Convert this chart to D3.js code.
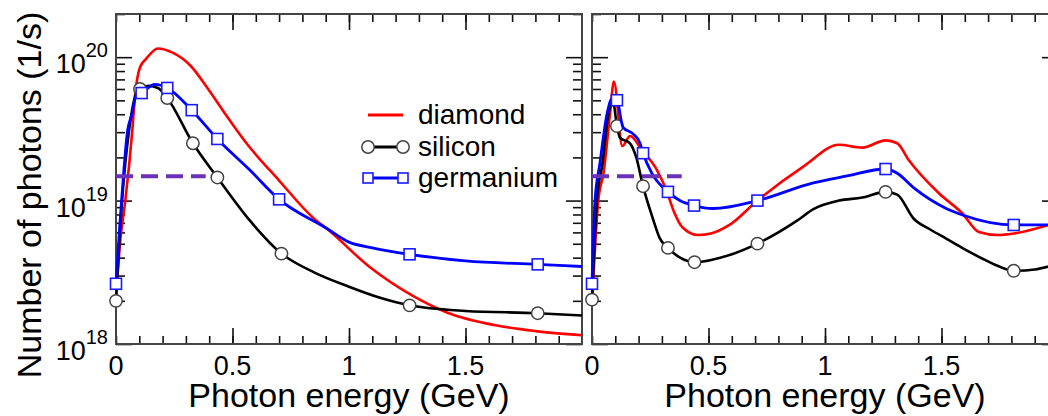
<!DOCTYPE html>
<html>
<head>
<meta charset="utf-8">
<script src="https://cdn.jsdelivr.net/npm/d3@7"></script>
<style>
  body { margin: 0; background: #fff; }
  svg { display: block; font-family: "Liberation Sans", Arial, Helvetica, sans-serif; }
</style>
</head>
<body>
<script>
// photon energies (GeV) and photon counts (1/s)
var leftDiamondE = [0, 0.02, 0.04, 0.07, 0.081, 0.103, 0.13, 0.18, 0.245, 0.32, 0.39, 0.46, 0.56, 0.70, 0.86, 0.90, 1.09, 1.28, 1.42, 1.63, 1.80, 2.0];
var leftDiamondV = [2.14e18, 5.6e18, 1.0e19, 3.09e19, 5.25e19, 8.5e19, 9.77e19, 1.15e20, 1.07e20, 8.71e19, 6.17e19, 4.22e19, 2.51e19, 1.38e19, 7.24e18, 6.46e18, 3.43e18, 2.14e18, 1.66e18, 1.35e18, 1.23e18, 1.15e18];

var leftSiliconE = [0, 0.017, 0.026, 0.056, 0.09, 0.103, 0.14, 0.18, 0.22, 0.33, 0.435, 0.575, 0.71, 0.85, 1.0, 1.13, 1.26, 1.5, 1.81, 2.0];
var leftSiliconV = [2.0e18, 6.17e18, 1.0e19, 3.09e19, 5.75e19, 6.0e19, 6.31e19, 6.10e19, 5.19e19, 2.51e19, 1.45e19, 7.24e18, 4.27e18, 3.16e18, 2.51e18, 2.11e18, 1.86e18, 1.70e18, 1.64e18, 1.58e18];

var leftGermaniumE = [0, 0.015, 0.024, 0.05, 0.068, 0.085, 0.11, 0.167, 0.22, 0.325, 0.435, 0.57, 0.70, 0.9, 1.0, 1.1, 1.26, 1.5, 1.81, 2.0];
var leftGermaniumV = [2.63e18, 6.3e18, 1.0e19, 3.09e19, 3.98e19, 5.3e19, 5.62e19, 6.46e19, 6.10e19, 4.27e19, 2.69e19, 1.66e19, 1.02e19, 6.46e18, 5.13e18, 4.68e18, 4.22e18, 3.80e18, 3.59e18, 3.47e18];

var rightDiamondE = [0, 0.027, 0.05, 0.077, 0.094, 0.13, 0.163, 0.215, 0.28, 0.32, 0.35, 0.39, 0.455, 0.51, 0.59, 0.71, 0.91, 1.06, 1.16, 1.26, 1.31, 1.36, 1.49, 1.59, 1.66, 1.74, 1.81, 1.96, 2.0];
var rightDiamondV = [1.91e18, 1.0e19, 1.58e19, 3.98e19, 6.76e19, 2.40e19, 2.82e19, 2.24e19, 1.62e19, 1.17e19, 8.51e18, 6.46e18, 5.75e18, 5.89e18, 6.76e18, 1.0e19, 1.74e19, 2.45e19, 2.34e19, 2.63e19, 2.51e19, 1.91e19, 1.12e19, 8.13e18, 6.03e18, 5.75e18, 5.89e18, 6.76e18, 7.08e18];

var rightSiliconE = [0, 0.021, 0.045, 0.07, 0.09, 0.107, 0.12, 0.163, 0.19, 0.219, 0.26, 0.29, 0.326, 0.38, 0.44, 0.59, 0.71, 0.88, 0.95, 1.06, 1.16, 1.26, 1.31, 1.38, 1.45, 1.52, 1.60, 1.67, 1.74, 1.81, 1.90, 2.0];
var rightSiliconV = [2.04e18, 1.0e19, 1.82e19, 3.98e19, 4.90e19, 3.31e19, 2.75e19, 2.51e19, 2.0e19, 1.26e19, 7.59e18, 5.50e18, 4.68e18, 3.98e18, 3.72e18, 4.17e18, 5.01e18, 7.24e18, 8.71e18, 1.0e19, 1.05e19, 1.15e19, 1.10e19, 7.50e18, 6.31e18, 5.43e18, 4.57e18, 3.98e18, 3.51e18, 3.24e18, 3.31e18, 3.63e18];

var rightGermaniumE = [0, 0.013, 0.034, 0.064, 0.086, 0.107, 0.133, 0.176, 0.206, 0.219, 0.257, 0.326, 0.377, 0.438, 0.52, 0.71, 0.95, 1.09, 1.26, 1.31, 1.38, 1.52, 1.59, 1.81, 1.96, 2.0];
var rightGermaniumV = [2.63e18, 1.0e19, 1.82e19, 3.98e19, 5.13e19, 5.01e19, 3.24e19, 2.92e19, 2.51e19, 2.14e19, 1.55e19, 1.15e19, 1.0e19, 9.23e18, 8.81e18, 1.0e19, 1.33e19, 1.48e19, 1.66e19, 1.55e19, 1.23e19, 8.81e18, 7.94e18, 6.76e18, 6.76e18, 6.8e18];

// energies that carry a marker
var leftSiliconMarks = [0, 0.103, 0.22, 0.33, 0.435, 0.71, 1.26, 1.81];
var leftGermaniumMarks = [0, 0.11, 0.22, 0.325, 0.435, 0.70, 1.26, 1.81];
var rightSiliconMarks = [0, 0.107, 0.219, 0.326, 0.44, 0.71, 1.26, 1.81];
var rightGermaniumMarks = [0, 0.107, 0.219, 0.326, 0.438, 0.71, 1.26, 1.81];

// dashed threshold line
var thresholdE = [0, 0.385];
var thresholdV = 1.48e19;

var xTickLabels = [0, 0.5, 1, 1.5];
var yDecades = [18, 19, 20];
var legendNames = ["diamond", "silicon", "germanium"];

var width = 1048, height = 416;
var plotTop = 14, plotBottom = 344;

var svg = d3.select("body").append("svg")
  .attr("width", width)
  .attr("height", height);

var y = d3.scaleLog().domain([1e18, 2e20]).range([plotBottom, plotTop]);

function zip(es, vs) {
  return es.map(function (e, i) { return { e: e, v: vs[i] }; });
}

// value listed for the energy closest to e
function valueAt(data, e) {
  var best = data[0];
  data.forEach(function (d) { if (Math.abs(d.e - e) < Math.abs(best.e - e)) best = d; });
  return best.v;
}

function drawPanel(x0, x1, series, showYLabels) {
  var x = d3.scaleLinear().domain([0, 2]).range([x0, x1]);
  var g = svg.append("g");

  var minorX = d3.range(0, 20).map(function (i) { return i / 10; });
  var minorY = [];
  [18, 19].forEach(function (d) {
    for (var k = 2; k <= 9; k++) minorY.push(k * Math.pow(10, d));
  });
  minorY.push(2e20);
  var majorY = yDecades.map(function (d) { return Math.pow(10, d); });

  // minor and major ticks, all pointing inward
  g.append("g").attr("transform", "translate(0," + plotBottom + ")")
    .call(d3.axisBottom(x).tickValues(minorX).tickSize(-8));
  g.append("g").attr("transform", "translate(0," + plotBottom + ")")
    .call(d3.axisBottom(x).tickValues([0.5, 1, 1.5]).tickSize(-16));
  g.append("g").attr("transform", "translate(0," + plotTop + ")")
    .call(d3.axisTop(x).tickValues(minorX).tickSize(-8));
  g.append("g").attr("transform", "translate(0," + plotTop + ")")
    .call(d3.axisTop(x).tickValues([0.5, 1, 1.5]).tickSize(-16));
  g.append("g").attr("transform", "translate(" + x0 + ",0)")
    .call(d3.axisLeft(y).tickValues(minorY).tickSize(-9));
  g.append("g").attr("transform", "translate(" + x0 + ",0)")
    .call(d3.axisLeft(y).tickValues(majorY).tickSize(-16));
  g.append("g").attr("transform", "translate(" + x1 + ",0)")
    .call(d3.axisRight(y).tickValues(minorY).tickSize(-9));
  g.append("g").attr("transform", "translate(" + x1 + ",0)")
    .call(d3.axisRight(y).tickValues(majorY).tickSize(-16));

  g.selectAll(".domain").remove();
  g.selectAll(".tick text").remove();
  g.selectAll(".tick line").attr("stroke", "#111").attr("stroke-width", 1.6);

  g.append("rect")
    .attr("x", x0).attr("y", plotTop)
    .attr("width", x1 - x0).attr("height", plotBottom - plotTop)
    .attr("fill", "none")
    .attr("stroke", "#444")
    .attr("stroke-width", 2);

  // x tick labels
  g.selectAll(".xlab").data(xTickLabels).enter().append("text")
    .attr("x", function (d) { return x(d); })
    .attr("y", 375)
    .attr("text-anchor", "middle")
    .attr("font-size", 27)
    .text(function (d) { return d; });

  g.append("text")
    .attr("x", (x0 + x1) / 2)
    .attr("y", 407)
    .attr("text-anchor", "middle")
    .attr("font-size", 34)
    .text("Photon energy (GeV)");

  if (showYLabels) {
    var lab = g.selectAll(".ylab").data(yDecades).enter().append("text")
      .attr("x", 108)
      .attr("y", function (d) { return y(Math.pow(10, d)) + 16; })
      .attr("text-anchor", "end")
      .attr("font-size", 27);
    lab.append("tspan").text("10");
    lab.append("tspan").attr("dy", -16).attr("font-size", 20)
      .text(function (d) { return d; });
  }

  var line = d3.line()
    .x(function (d) { return x(d.e); })
    .y(function (d) { return y(d.v); })
    .curve(d3.curveMonotoneX);

  var plot = g.append("g");
  var sData = zip(series.sE, series.sV);
  var gData = zip(series.gE, series.gV);

  plot.append("path").datum(zip(series.dE, series.dV))
    .attr("d", line).attr("fill", "none")
    .attr("stroke", "#ff0000").attr("stroke-width", 2.6);

  plot.append("path").datum(sData)
    .attr("d", line).attr("fill", "none")
    .attr("stroke", "#000").attr("stroke-width", 2.6);

  plot.selectAll(".sm").data(series.sM).enter().append("circle")
    .attr("cx", function (d) { return x(d); })
    .attr("cy", function (d) { return y(valueAt(sData, d)); })
    .attr("r", 6.2)
    .attr("fill", "#fff")
    .attr("stroke", "#444")
    .attr("stroke-width", 1.5);

  plot.append("path").datum(gData)
    .attr("d", line).attr("fill", "none")
    .attr("stroke", "#0000ff").attr("stroke-width", 2.8);

  plot.selectAll(".gm").data(series.gM).enter().append("rect")
    .attr("x", function (d) { return x(d) - 5.5; })
    .attr("y", function (d) { return y(valueAt(gData, d)) - 5.5; })
    .attr("width", 11).attr("height", 11)
    .attr("fill", "#fff")
    .attr("stroke", "#1a1aff")
    .attr("stroke-width", 1.6);

  plot.append("line")
    .attr("x1", x(thresholdE[0])).attr("x2", x(thresholdE[1]))
    .attr("y1", y(thresholdV)).attr("y2", y(thresholdV))
    .attr("stroke", "#6a32b8")
    .attr("stroke-width", 4)
    .attr("stroke-dasharray", "17,8");
}

drawPanel(116, 582, {
  dE: leftDiamondE, dV: leftDiamondV,
  sE: leftSiliconE, sV: leftSiliconV, sM: leftSiliconMarks,
  gE: leftGermaniumE, gV: leftGermaniumV, gM: leftGermaniumMarks
}, true);

drawPanel(592, 1058, {
  dE: rightDiamondE, dV: rightDiamondV,
  sE: rightSiliconE, sV: rightSiliconV, sM: rightSiliconMarks,
  gE: rightGermaniumE, gV: rightGermaniumV, gM: rightGermaniumMarks
}, false);

// y axis title
svg.append("text")
  .attr("transform", "translate(41,195) rotate(-90)")
  .attr("text-anchor", "middle")
  .attr("font-size", 34)
  .text("Number of photons (1/s)");

// legend
var legend = svg.append("g");
var rowY = [115, 147, 178];
legendNames.forEach(function (name, i) {
  var color = ["#ff0000", "#000", "#0000ff"][i];
  legend.append("line")
    .attr("x1", 368).attr("x2", 403)
    .attr("y1", rowY[i]).attr("y2", rowY[i])
    .attr("stroke", color).attr("stroke-width", 3);
  if (name === "silicon") {
    [368, 403].forEach(function (cx) {
      legend.append("circle").attr("cx", cx).attr("cy", rowY[i]).attr("r", 6.2)
        .attr("fill", "#fff").attr("stroke", "#444").attr("stroke-width", 1.5);
    });
  }
  if (name === "germanium") {
    [368, 403].forEach(function (cx) {
      legend.append("rect").attr("x", cx - 5).attr("y", rowY[i] - 5)
        .attr("width", 10).attr("height", 10)
        .attr("fill", "#fff").attr("stroke", "#1a1aff").attr("stroke-width", 1.6);
    });
  }
  legend.append("text")
    .attr("x", 418).attr("y", rowY[i] + 9)
    .attr("font-size", 28)
    .text(name);
});
</script>
</body>
</html>
